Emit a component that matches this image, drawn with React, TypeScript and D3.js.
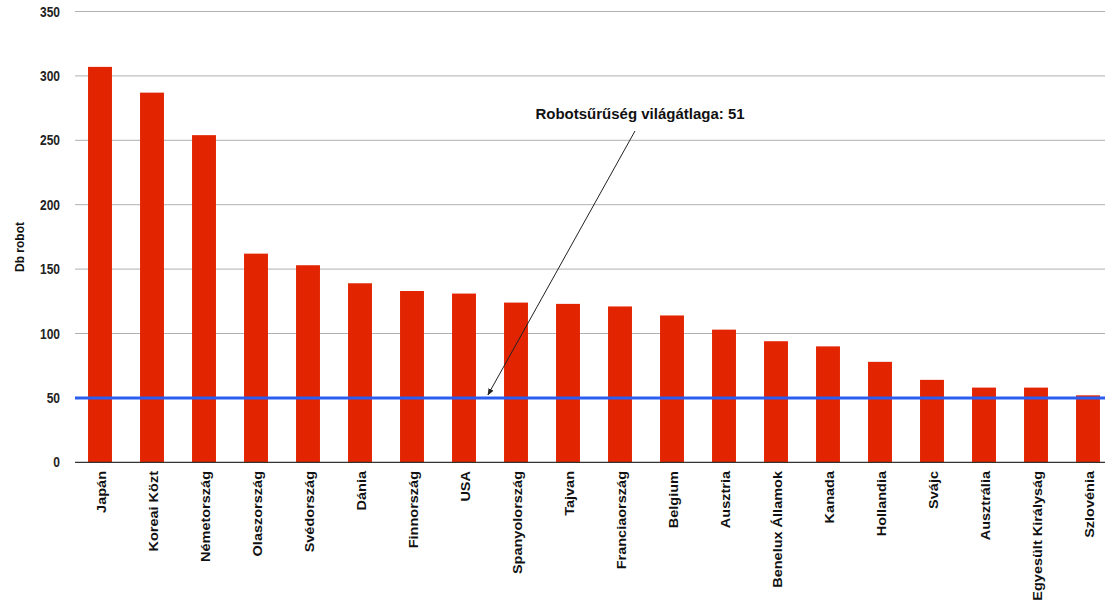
import React from "react";
import * as d3 from "d3";

const categories = [
  "Japán", "Koreai Közt", "Németország", "Olaszország", "Svédország", "Dánia",
  "Finnország", "USA", "Spanyolország", "Tajvan", "Franciaország", "Belgium",
  "Ausztria", "Benelux Államok", "Kanada", "Hollandia", "Svájc", "Ausztrália",
  "Egyesült Királyság", "Szlovénia",
];
const values = [307, 287, 254, 162, 153, 139, 133, 131, 124, 123, 121, 114, 103, 94, 90, 78, 64, 58, 58, 52];
const yTicks = [0, 50, 100, 150, 200, 250, 300, 350];
const averageValue = 50;
const annotation = "Robotsűrűség világátlaga: 51";
const yTitle = "Db robot";

const W = 1105;
const H = 609;
const FONT = "'Liberation Sans', Arial, sans-serif";
const STRETCH = 1.21;

export default function App() {
  const x = d3.scaleBand<string>().domain(categories).range([74, 1114]).paddingInner(0.54).paddingOuter(0.27);
  const y = d3.scaleLinear().domain([0, 350]).range([462.3, 11.5]);
  const avgY = y(averageValue);

  const arrowStart = { x: 635, y: 131 };
  const arrowEnd = { x: x("USA")! + x.bandwidth() + 12, y: avgY - 3 };

  return (
    <svg width={W} height={H} style={{ position: "absolute", left: 0, top: 0, background: "#fff" }} fontFamily={FONT}>
      <defs>
        <marker id="ah" viewBox="0 0 10 10" refX="9" refY="5" markerWidth="7" markerHeight="7" orient="auto" markerUnits="userSpaceOnUse">
          <path d="M0,1 L10,5 L0,9 z" fill="#222" />
        </marker>
      </defs>
      {yTicks.map((t) => (
        <g key={t}>
          {t > 0 && <line x1={75} x2={W} y1={y(t)} y2={y(t)} stroke="#b0b0b0" strokeWidth={1} />}
          <text transform={`translate(60,${y(t)}) scale(1,${STRETCH})`} dy="0.35em" textAnchor="end" fontSize={12} fontWeight="bold" fill="#222">{t}</text>
        </g>
      ))}
      <text transform={`translate(20,247) rotate(-90)`} textAnchor="middle" dy="0.35em" fontSize={12} fontWeight="bold" fill="#111">{yTitle}</text>
      {categories.map((c, i) => (
        <rect key={c} x={x(c)!} y={y(values[i])} width={x.bandwidth()} height={y(0) - y(values[i])} fill="#e32400" />
      ))}
      <line x1={75} x2={W} y1={y(0)} y2={y(0)} stroke="#333" strokeWidth={1.2} />
      <line x1={75} x2={W} y1={avgY} y2={avgY} stroke="#2a5ef2" strokeWidth={3} />
      {categories.map((c) => (
        <text key={c} transform={`translate(${x(c)! + x.bandwidth() / 2 + 1.5},471) rotate(-90) scale(${STRETCH},1)`} textAnchor="end" dy="0.35em" fontSize={12} fontWeight="bold" fill="#111">{c}</text>
      ))}
      <line x1={arrowStart.x} y1={arrowStart.y} x2={arrowEnd.x} y2={arrowEnd.y} stroke="#222" strokeWidth={1} markerEnd="url(#ah)" />
      <text x={640} y={119} textAnchor="middle" fontSize={15} fontWeight="bold" fill="#111">{annotation}</text>
    </svg>
  );
}
